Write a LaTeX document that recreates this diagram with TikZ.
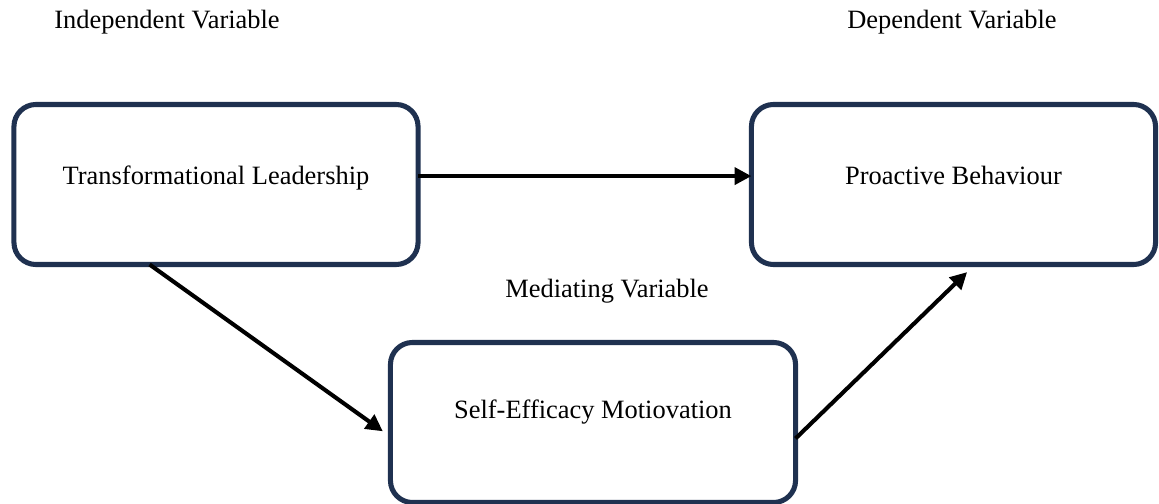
\documentclass[tikz,border=0pt]{standalone}
\usepackage{fontspec}
\setmainfont{Liberation Serif}
\usetikzlibrary{arrows.meta,positioning,calc}
\definecolor{boxnavy}{RGB}{31,49,80}

\begin{document}
\begin{tikzpicture}[x=0.025cm,y=-0.025cm,font=\fontsize{18.8}{22}\selectfont,
 varbox/.style={draw=boxnavy,line width=3.6pt,rounded corners=0.55cm,align=center,minimum width=10.1cm,minimum height=4cm,text depth=0.45cm,outer sep=0pt},
 arr/.style={-{Triangle[length=4.2mm,width=4.2mm]},line width=2.9pt,draw=black}]
\useasboundingbox (0,0) rectangle (1159,504);
\node (indep) at (167,22) {Independent Variable};
\node (dep) at (952,22) {Dependent Variable};
\node (med) at (607,291) {Mediating Variable};
\node[varbox] (lead) at (216,184.5) {Transformational Leadership};
\node[varbox] (proact) at (953.5,184.5) {Proactive Behaviour};
\node[varbox,minimum width=10.125cm,text depth=0.65cm] (selfeff) at (593,422.5) {Self-Efficacy Motiovation};
\coordinate (leadout) at ([xshift=3.39cm]lead.south west);
\coordinate (selfin) at ([xshift=-0.19cm,yshift=-0.22cm]selfeff.west);
\coordinate (selfout) at ([yshift=-0.4cm]selfeff.east);
\coordinate (proactin) at ([xshift=0.34cm,yshift=-0.19cm]proact.south);
\draw[arr] ([yshift=0.21cm]lead.east)--([yshift=0.21cm]proact.west);
\draw[arr] (leadout)--(selfin);
\draw[arr] (selfout)--(proactin);
\end{tikzpicture}
\end{document}
